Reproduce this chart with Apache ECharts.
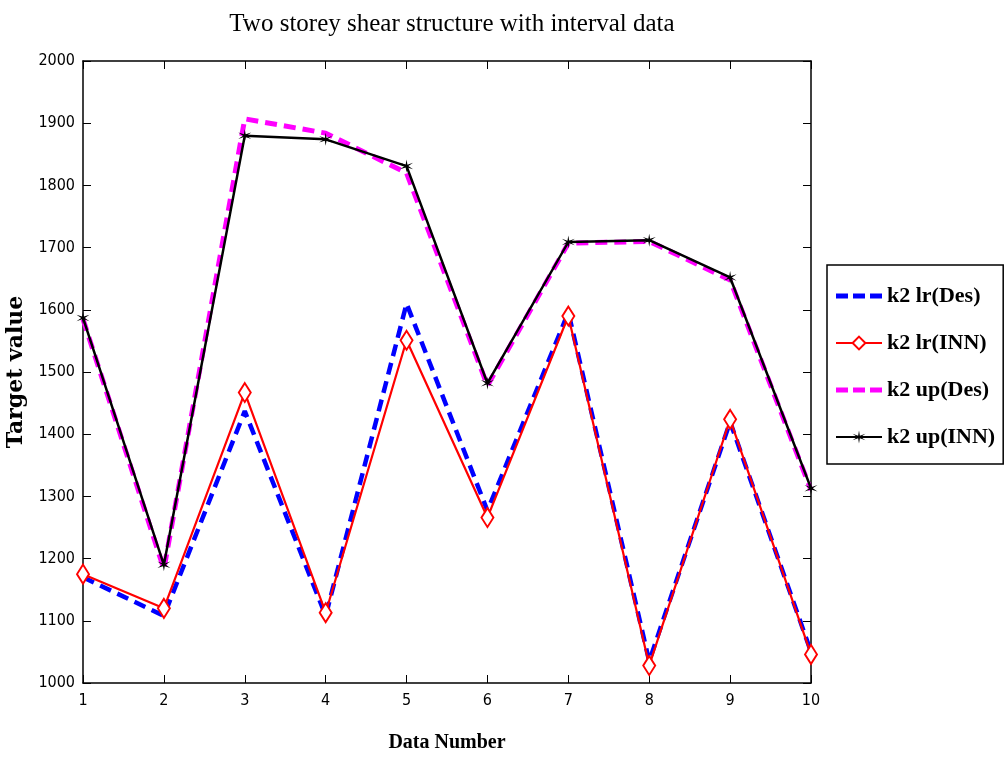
<!DOCTYPE html>
<html>
<head>
<meta charset="utf-8">
<script src="https://cdn.jsdelivr.net/npm/echarts@6/dist/echarts.min.js"></script>
<style>
  html, body { margin: 0; padding: 0; background: #fff; }
  #chart { width: 1004px; height: 758px; }
</style>
</head>
<body>
<div id="chart"></div>
<script>
// data
var dataNumber = [1, 2, 3, 4, 5, 6, 7, 8, 9, 10]
var k2LrDes = [1170, 1108, 1437, 1108, 1610, 1277, 1596, 1035, 1420, 1050]
var k2LrInn = [1175, 1120, 1467, 1113, 1551, 1266, 1590, 1028, 1424, 1046]
var k2UpDes = [1585, 1183, 1907, 1884, 1820, 1478, 1707, 1710, 1648, 1310]
var k2UpInn = [1587, 1190, 1880, 1874, 1831, 1482, 1709, 1712, 1652, 1313]
var yTicks = { min: 1000, max: 2000, step: 100 }

function pairs(vals) {
  return dataNumber.map(function (x, i) { return [x, vals[i]] })
}

var starPath = 'path://M10,0L11.2,7.9L18.7,5L12.4,10L18.7,15L11.2,12.1L10,20L8.8,12.1L1.3,15L7.6,10L1.3,5L8.8,7.9Z'
var dashIcon = 'path://M0,0H12V5H0Z M17,0H29V5H17Z M34,0H46V5H34Z'
var tickFont = { fontFamily: 'DejaVu Sans Condensed, Liberation Sans, Arial', fontSize: 16, color: '#000' }
var plain = function (v) { return String(v) }

var chart = echarts.init(document.getElementById('chart'))
chart.setOption({
  animation: false,
  backgroundColor: '#fff',
  title: {
    text: 'Two storey shear structure with interval data',
    left: 447, top: 7, textAlign: 'center',
    textStyle: { fontFamily: 'Liberation Serif, Times New Roman', fontWeight: 'normal', fontSize: 25, color: '#000' }
  },
  grid: { left: 83, right: 193, top: 61, bottom: 75, outerBoundsMode: 'none' },
  legend: {
    orient: 'vertical',
    left: 827, top: 265,
    padding: [20, 8, 16, 8],
    itemGap: 25,
    itemWidth: 46, itemHeight: 16,
    backgroundColor: '#fff',
    borderColor: '#000', borderWidth: 1.5, borderRadius: 0,
    textStyle: { fontFamily: 'Liberation Serif, Times New Roman', fontWeight: 'bold', fontSize: 22, color: '#000' },
    data: [
      { name: 'k2 lr(Des)', icon: dashIcon, itemStyle: { color: '#0000ff' } },
      { name: 'k2 lr(INN)' },
      { name: 'k2 up(Des)', icon: dashIcon, itemStyle: { color: '#ff00ff' } },
      { name: 'k2 up(INN)' }
    ]
  },
  xAxis: [{
    type: 'value', min: 1, max: 10, interval: 1,
    name: 'Data Number', nameLocation: 'middle', nameGap: 50,
    nameTextStyle: { fontFamily: 'Liberation Serif, Times New Roman', fontWeight: 'bold', fontSize: 20, color: '#000' },
    axisLine: { lineStyle: { color: '#000', width: 1.5 } },
    axisTick: { inside: true, length: 8, lineStyle: { color: '#000' } },
    axisLabel: Object.assign({ margin: 10, formatter: plain }, tickFont),
    splitLine: { show: false }
  }, {
    type: 'value', min: 1, max: 10, interval: 1, position: 'top',
    axisLine: { lineStyle: { color: '#000', width: 1.5 } },
    axisTick: { inside: true, length: 8, lineStyle: { color: '#000' } },
    axisLabel: { show: false }, splitLine: { show: false }
  }],
  yAxis: [{
    type: 'value', min: yTicks.min, max: yTicks.max, interval: yTicks.step,
    name: 'Target value', nameLocation: 'middle', nameGap: 55,
    nameTextStyle: { fontFamily: 'DejaVu Serif, Liberation Serif', fontWeight: 'bold', fontSize: 22, color: '#000' },
    axisLine: { lineStyle: { color: '#000', width: 1.5 } },
    axisTick: { inside: true, length: 8, lineStyle: { color: '#000' } },
    axisLabel: Object.assign({ margin: 8, formatter: plain }, tickFont),
    splitLine: { show: false }
  }, {
    type: 'value', min: yTicks.min, max: yTicks.max, interval: yTicks.step, position: 'right',
    axisLine: { show: true, lineStyle: { color: '#000', width: 1.5 } },
    axisTick: { show: true, inside: true, length: 8, lineStyle: { color: '#000' } },
    axisLabel: { show: false }, splitLine: { show: false }
  }],
  series: [{
    name: 'k2 lr(Des)', type: 'line', data: pairs(k2LrDes),
    showSymbol: false, symbol: 'none',
    lineStyle: { color: '#0000ff', width: 4.5, type: [12, 7] },
    itemStyle: { color: '#0000ff' }
  }, {
    name: 'k2 lr(INN)', type: 'line', data: pairs(k2LrInn),
    symbol: 'diamond', symbolSize: [12, 19],
    lineStyle: { color: '#ff0000', width: 2.2 },
    itemStyle: { color: '#fff', borderColor: '#ff0000', borderWidth: 2 }
  }, {
    name: 'k2 up(Des)', type: 'line', data: pairs(k2UpDes),
    showSymbol: false, symbol: 'none',
    lineStyle: { color: '#ff00ff', width: 5, type: [12, 7] },
    itemStyle: { color: '#ff00ff' }
  }, {
    name: 'k2 up(INN)', type: 'line', data: pairs(k2UpInn),
    symbol: starPath, symbolSize: 13,
    lineStyle: { color: '#000', width: 2.5 },
    itemStyle: { color: '#000' }
  }]
})
</script>
</body>
</html>
